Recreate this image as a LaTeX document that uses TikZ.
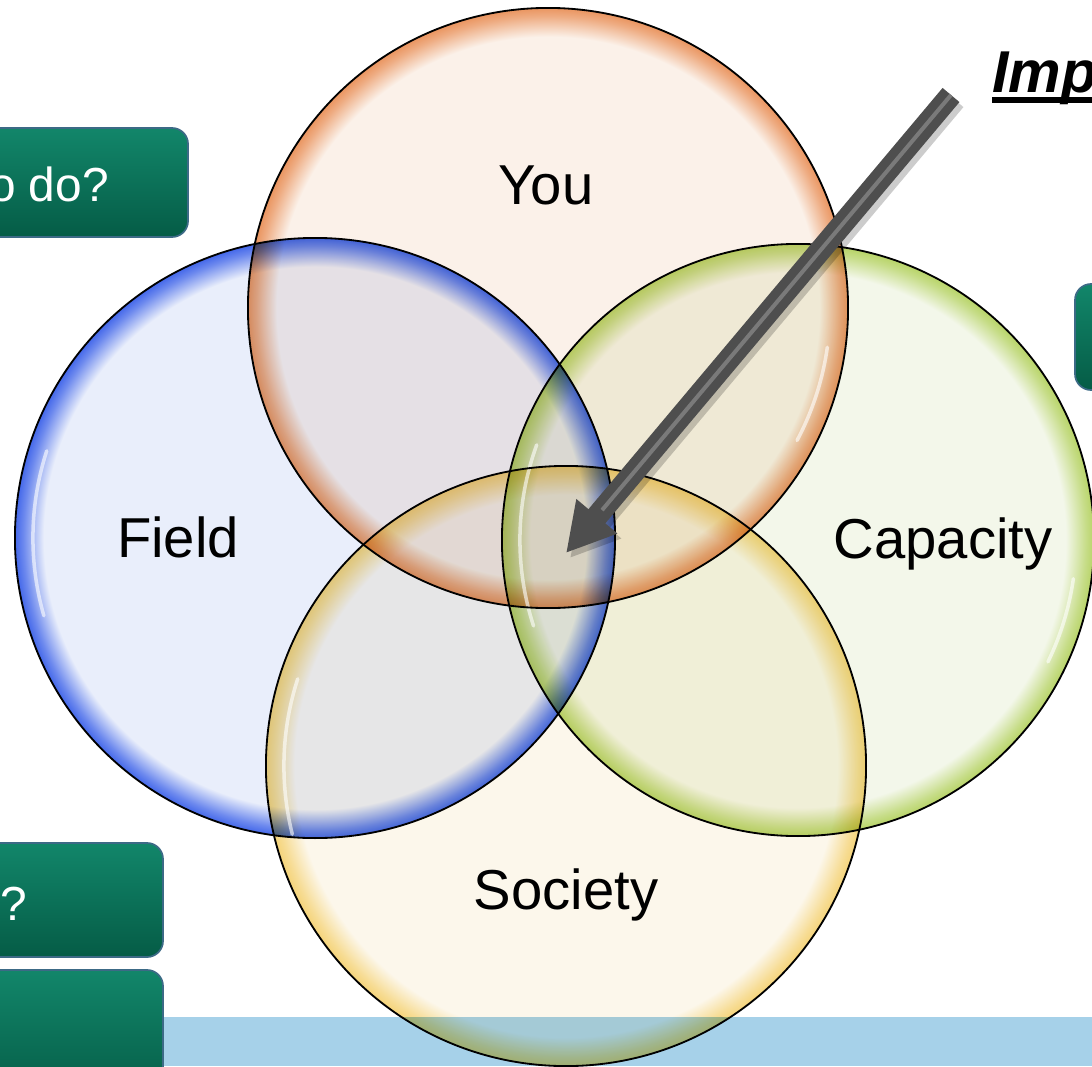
\documentclass[tikz,border=0pt]{standalone}
\usepackage{fontspec}
\setmainfont{Liberation Sans}
\usetikzlibrary{arrows.meta}

\definecolor{youfill}{HTML}{FBF1E9}
\definecolor{youedge}{HTML}{EA9560}
\definecolor{fieldfill}{HTML}{E9EEFB}
\definecolor{fieldedge}{HTML}{4468EA}
\definecolor{capfill}{HTML}{F3F7EA}
\definecolor{capedge}{HTML}{B8D468}
\definecolor{socfill}{HTML}{FCF7EB}
\definecolor{socedge}{HTML}{F5D47A}
\definecolor{btngreen}{HTML}{07785A}
\definecolor{btntop}{HTML}{12866A}
\definecolor{btnbot}{HTML}{055C46}
\definecolor{btnedge}{HTML}{3C6A86}
\definecolor{bandblue}{HTML}{A6D1E9}
\definecolor{arrowgray}{HTML}{4E4E4E}

\pgfdeclareradialshading{youshade}{\pgfpoint{0bp}{0bp}}{color(0bp)=(youfill); color(22.6bp)=(youfill); color(24.3bp)=(youedge!75!youfill); color(25bp)=(youedge); color(50bp)=(youedge)}
\pgfdeclareradialshading{fieldshade}{\pgfpoint{0bp}{0bp}}{color(0bp)=(fieldfill); color(22.6bp)=(fieldfill); color(24.3bp)=(fieldedge!75!fieldfill); color(25bp)=(fieldedge); color(50bp)=(fieldedge)}
\pgfdeclareradialshading{capshade}{\pgfpoint{0bp}{0bp}}{color(0bp)=(capfill); color(22.6bp)=(capfill); color(24.3bp)=(capedge!75!capfill); color(25bp)=(capedge); color(50bp)=(capedge)}
\pgfdeclareradialshading{socshade}{\pgfpoint{0bp}{0bp}}{color(0bp)=(socfill); color(22.6bp)=(socfill); color(24.3bp)=(socedge!75!socfill); color(25bp)=(socedge); color(50bp)=(socedge)}

\begin{document}
\begin{tikzpicture}[x=0.025cm, y=-0.025cm, font=\fontsize{40}{48}\selectfont,
    venn/.style={shade, shading=#1, blend mode=multiply},
    ring/.style={draw=black, line width=1.3pt},
    gloss/.style={draw=white, line width=2.5pt, opacity=0.6, line cap=round},
    vlabel/.style={anchor=base, inner sep=0pt, text=black},
    btn/.style={draw=btnedge, line width=1.2pt, rounded corners=0.4cm,
                top color=btntop, middle color=btngreen, bottom color=btnbot},
    btntext/.style={inner sep=0pt, text=white, font=\fontsize{34}{40}\selectfont},
    arrowbody/.style={draw=arrowgray, line width=0.55cm,
                      -{Triangle[length=1.2cm, width=1.25cm, fill=arrowgray]}}]
  \useasboundingbox (0,0) rectangle (1092,1066);
  \clip (0,0) rectangle (1092,1066);

  % band and buttons
  \fill[bandblue] (0,1017) rectangle (1092,1066);
  \node[btn, minimum width=5.2cm, minimum height=2.725cm] (todo) at (84,182.5) {};
  \node[btn, minimum width=1.5cm, minimum height=2.65cm] (side) at (1105,337) {};
  \node[btn, minimum width=4.575cm, minimum height=2.85cm] (ask) at (71.5,900) {};
  \node[btn, minimum width=4.575cm, minimum height=3.25cm] (more) at (71.5,1035) {};
  \node[btntext, anchor=base east] (todotext) at (109,201) {o do?};
  \node[btntext, anchor=base west] (asktext) at (0,920) {?};

  % the four circles
  \path[venn=youshade] (548,308) circle (7.5cm);
  \path[venn=fieldshade] (315,538) circle (7.5cm);
  \path[venn=capshade] (798,540) circle (7.4cm);
  \path[venn=socshade] (566,766) circle (7.5cm);
  \draw[gloss] (548,308) ++(332:7.05cm) arc[start angle=332, end angle=352, radius=7.05cm];
  \draw[gloss] (315,538) ++(162:7.05cm) arc[start angle=162, end angle=196, radius=7.05cm];
  \draw[gloss] (798,540) ++(160:6.95cm) arc[start angle=160, end angle=198, radius=6.95cm];
  \draw[gloss] (798,540) ++(334:6.95cm) arc[start angle=334, end angle=352, radius=6.95cm];
  \draw[gloss] (566,766) ++(162:7.05cm) arc[start angle=162, end angle=194, radius=7.05cm];
  \draw[ring] (548,308) circle (7.5cm);
  \draw[ring] (315,538) circle (7.5cm);
  \draw[ring] (798,540) circle (7.4cm);
  \draw[ring] (566,766) circle (7.5cm);

  \node[vlabel] (you) at (546,204) {You};
  \node[vlabel] (field) at (178,557) {Field};
  \node[vlabel] (capacity) at (943,558) {Capacity};
  \node[vlabel] (society) at (566,909) {Society};

  \node[anchor=base west, inner sep=0pt, font=\fontsize{42}{50}\selectfont\bfseries\itshape] (imp) at (992,92) {Imp};
  \draw[line width=0.15cm] ([yshift=-0.2cm]imp.base west) -- ([yshift=-0.2cm]imp.base east);

  % pointer into the middle
  \coordinate (tail) at (951,95);
  \coordinate (hub) at (566,553);
  \draw[arrowbody, draw=black, opacity=0.2] ([shift={(4,5)}]tail) -- ([shift={(4,5)}]hub);
  \draw[arrowbody] (tail) -- (hub);
  \draw[line width=0.1cm, arrowgray!75!white, shorten >=1.4cm] (tail) -- (hub);
\end{tikzpicture}
\end{document}
